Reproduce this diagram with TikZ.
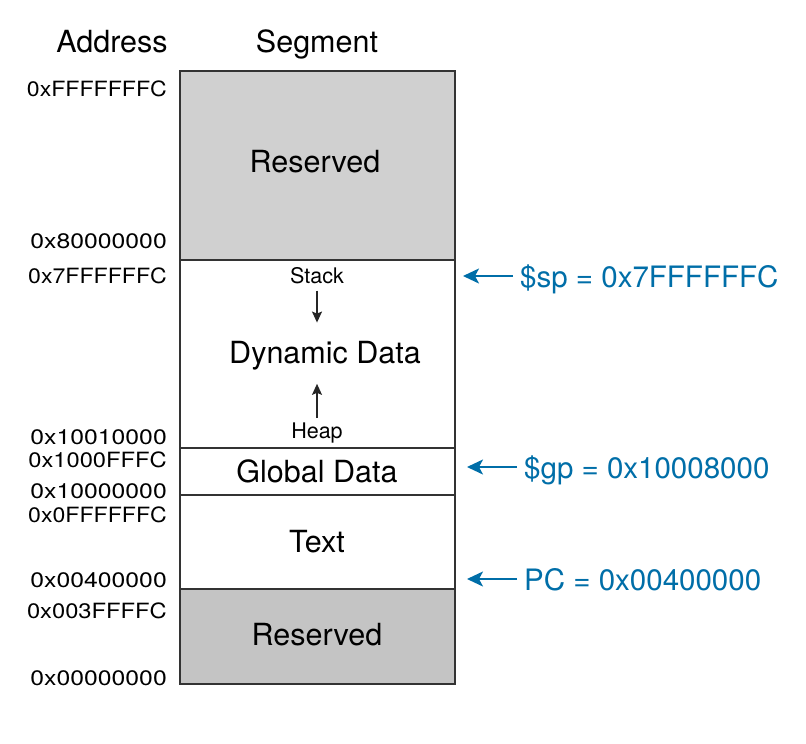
\documentclass[tikz,border=0pt]{standalone}
\usepackage{fontspec}
\setmainfont{TeX Gyre Heros}
\usetikzlibrary{arrows.meta}
\definecolor{ptrblue}{RGB}{0,110,168}
\definecolor{resgray}{RGB}{208,208,208}
\definecolor{resgraydk}{RGB}{196,196,196}
\begin{document}
\begin{tikzpicture}[x=1pt,y=-1pt,
	segline/.style={line width=1.4pt,draw=black!80},
	seglabel/.style={anchor=base,inner sep=0pt,font=\fontsize{30.5}{36}\selectfont},
	head/.style={anchor=base,inner sep=0pt,font=\fontsize{30.5}{36}\selectfont},
	addr/.style={anchor=base east,inner sep=0pt,font=\fontsize{21}{25}\selectfont},
	small/.style={anchor=base,inner sep=0pt,font=\fontsize{21.5}{25}\selectfont},
	ptr/.style={anchor=base west,inner sep=0pt,text=ptrblue,font=\fontsize{29.5}{35}\selectfont},
	growarrow/.style={line width=1.4pt,black!85,-{Stealth[length=11pt,width=10pt,inset=2pt]}},
	ptrarrow/.style={line width=2pt,ptrblue,-{Stealth[length=16pt,width=15pt,inset=4pt]},shorten <=7pt}]
	\useasboundingbox (0,0) rectangle (806,744);
		\node[head] (haddr) at (112,52) {Address};
		\node[head] (hseg) at (317,52) {Segment};
			\filldraw[segline,fill=resgray] (180,71) rectangle (455,260);
			\draw[segline] (180,260) rectangle (455,448);
			\draw[segline] (180,448) rectangle (455,495);
			\draw[segline] (180,495) rectangle (455,589);
			\filldraw[segline,fill=resgraydk] (180,589) rectangle (455,684);
		\node[seglabel] (restop) at (315,172) {Reserved};
		\node[seglabel] (dyn) at (325,363) {Dynamic Data};
		\node[seglabel] (glob) at (317,482) {Global Data};
		\node[seglabel] (text) at (317,552) {Text};
		\node[seglabel] (resbot) at (317,645) {Reserved};
		\node[small] (stack) at (317,283) {Stack};
		\node[small] (heap) at (317,438) {Heap};
			\draw[growarrow,shorten <=7pt,shorten >=18pt] (stack.south) -- (stack.south |- dyn.north);
			\draw[growarrow,shorten <=4pt,shorten >=14pt] (heap.north) -- (heap.north |- dyn.south);
		\node[addr] (a1) at (167,96) {\scalebox{1.1}[1]{0xFFFFFFFC}};
		\node[addr] (a2) at (167,248) {\scalebox{1.18}[1]{0x80000000}};
		\node[addr] (a3) at (167,283) {\scalebox{1.1}[1]{0x7FFFFFFC}};
		\node[addr] (a4) at (167,444) {\scalebox{1.18}[1]{0x10010000}};
		\node[addr] (a5) at (167,467) {\scalebox{1.13}[1]{0x1000FFFC}};
		\node[addr] (a6) at (167,498) {\scalebox{1.18}[1]{0x10000000}};
		\node[addr] (a7) at (167,522) {\scalebox{1.1}[1]{0x0FFFFFFC}};
		\node[addr] (a8) at (167,587) {\scalebox{1.18}[1]{0x00400000}};
		\node[addr] (a9) at (167,618) {\scalebox{1.13}[1]{0x003FFFFC}};
		\node[addr] (a10) at (167,685) {\scalebox{1.18}[1]{0x00000000}};
		\node[ptr] (sp) at (520,287) {\$sp = 0x7FFFFFFC};
		\node[ptr] (gp) at (524,478) {\$gp = 0x10008000};
		\node[ptr] (pc) at (524,590) {PC = 0x00400000};
			\coordinate (sptip) at (463,276);
			\coordinate (gptip) at (467,467);
			\coordinate (pctip) at (467,579);
			\draw[ptrarrow] (sp.west |- sptip) -- (sptip);
			\draw[ptrarrow] (gp.west |- gptip) -- (gptip);
			\draw[ptrarrow] (pc.west |- pctip) -- (pctip);
\end{tikzpicture}
\end{document}
